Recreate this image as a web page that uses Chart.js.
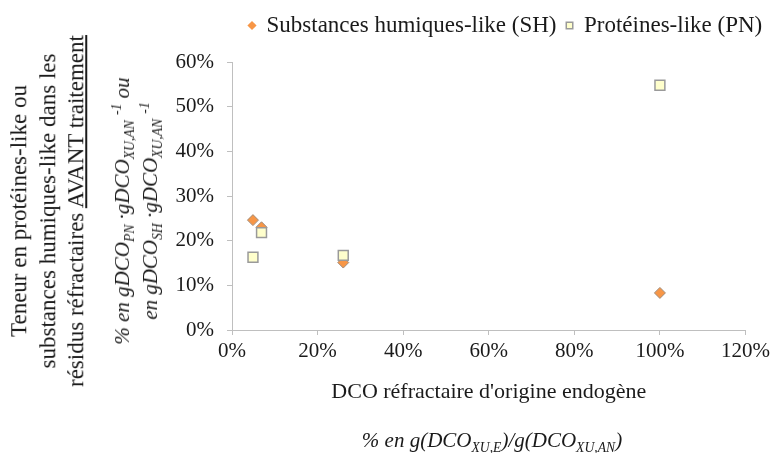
<!DOCTYPE html>
<html lang="fr">
<head>
<meta charset="UTF-8">
<title>Teneur en PN / SH avant traitement</title>
<script src="https://cdn.jsdelivr.net/npm/chart.js"></script>
<style>
    body { margin: 0; background: #fff; }
    #wrap {
        position: relative;
        width: 774px;
        height: 453px;
        font-family: "Liberation Serif", "Times New Roman", serif;
        color: #1a1a1a;
    }
    #chart { position: absolute; left: 0; top: 0; }
    .vtitle {
        position: absolute;
        transform: translate(-50%, -50%) rotate(-90deg);
        white-space: nowrap;
        text-align: center;
    }
    .outer { left: 48px; top: 211px; font-size: 23px; line-height: 28.5px; }
    .inner { left: 136px; top: 211px; font-size: 21px; line-height: 28px; font-style: italic; }
    .xsub {
        position: absolute;
        left: 492px; top: 440px;
        transform: translate(-50%, -50%);
        white-space: nowrap;
        font-size: 21px;
        font-style: italic;
    }
    sub, sup { font-size: 65%; line-height: 0; }
</style>
</head>
<body>
<div id="wrap">
    <canvas id="chart" width="774" height="453"></canvas>

    <div class="vtitle outer">
        Teneur en protéines-like ou<br>
        substances humiques-like dans les<br>
        résidus réfractaires <u>AVANT traitement</u>
    </div>
    <div class="vtitle inner">
        % en gDCO<sub>PN</sub> ·gDCO<sub>XU,AN</sub> <sup>-1</sup> ou<br>
        en gDCO<sub>SH</sub> ·gDCO<sub>XU,AN</sub> <sup>-1</sup>
    </div>
    <div class="xsub">% en g(DCO<sub>XU,E</sub>)/g(DCO<sub>XU,AN</sub>)</div>
</div>

<script>
// samples: refractory COD of endogenous origin (% of XU,AN)
const sampleX = [4.9, 6.9, 26, 100];
// humic-like substances (SH), %
const shValues = [24.6, 23.0, 15.1, 8.3];
// protein-like (PN), %
const pnValues = [16.3, 21.8, 16.7, 54.8];

const seriesNames = ['Substances humiques-like (SH)', 'Protéines-like (PN)'];
const xTickValues = [0, 20, 40, 60, 80, 100, 120];
const yTickValues = [0, 10, 20, 30, 40, 50, 60];
const xTitle = "DCO réfractaire d'origine endogène";

const axisGray = '#bfbfbf';
const serif = "'Liberation Serif', 'Times New Roman', serif";

function points(ys) {
    return sampleX.map((x, i) => ({ x: x, y: ys[i] }));
}

// put the legend where Excel had it (top right), independent of the plot area
const legendPlace = {
    id: 'legendPlace',
    afterLayout(chart) {
        const lg = chart.legend;
        const h = lg.height;
        lg.left = 239;
        lg.right = 900;
        lg.top = 4;
        lg.bottom = 4 + h;
    }
};

new Chart(document.getElementById('chart'), {
    type: 'scatter',
    data: {
        datasets: [
            {
                label: seriesNames[0],
                data: points(shValues),
                pointStyle: 'rectRot',
                pointRadius: 5.5,
                backgroundColor: '#f79646',
                borderColor: '#a08c7c',
                borderWidth: 1
            },
            {
                label: seriesNames[1],
                data: points(pnValues),
                pointStyle: 'rect',
                pointRadius: 7,
                backgroundColor: '#ffffcc',
                borderColor: '#9a9a9a',
                borderWidth: 1.5,
                order: -1
            }
        ]
    },
    options: {
        responsive: false,
        animation: false,
        events: [],
        layout: { padding: { left: 0, right: 28, top: 19, bottom: 0 } },
        plugins: {
            tooltip: { enabled: false },
            legend: {
                position: 'top',
                align: 'start',
                labels: {
                    usePointStyle: true,
                    boxWidth: 6,
                    boxHeight: 6.5,
                    color: '#1a1a1a',
                    font: { family: serif, size: 23 },
                    sort: (a, b) => a.datasetIndex - b.datasetIndex,
                    generateLabels(chart) {
                        const items = Chart.defaults.plugins.legend.labels.generateLabels(chart);
                        items.forEach(it => { if (it.datasetIndex === 0) it.lineWidth = 0; });
                        return items;
                    }
                }
            }
        },
        scales: {
            x: {
                type: 'linear',
                min: 0,
                max: 120,
                afterBuildTicks: s => { s.ticks = xTickValues.map(v => ({ value: v })); },
                afterFit: s => { s.height = 123; },
                ticks: {
                    padding: 4,
                    color: '#1a1a1a',
                    font: { family: serif, size: 21 },
                    callback: v => v + '%'
                },
                grid: { drawOnChartArea: false, tickLength: 5, color: axisGray },
                border: { color: axisGray },
                title: {
                    display: true,
                    text: xTitle,
                    color: '#1a1a1a',
                    font: { family: serif, size: 22 },
                    padding: { top: 0, bottom: 48 }
                }
            },
            y: {
                type: 'linear',
                min: 0,
                max: 60,
                afterBuildTicks: s => { s.ticks = yTickValues.map(v => ({ value: v })); },
                afterFit: s => { s.width = 232; },
                ticks: {
                    padding: 13,
                    color: '#1a1a1a',
                    font: { family: serif, size: 21 },
                    callback: v => v + '%'
                },
                grid: { drawOnChartArea: false, tickLength: 5, color: axisGray },
                border: { color: axisGray }
            }
        }
    },
    plugins: [legendPlace]
});
</script>
</body>
</html>
